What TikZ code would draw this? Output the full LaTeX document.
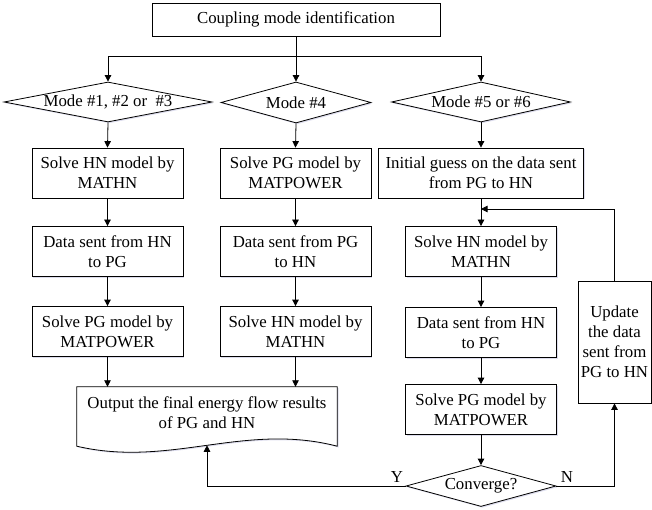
\documentclass[tikz,border=0pt]{standalone}
\usepackage{fontspec}
\setmainfont{Liberation Serif}
\usetikzlibrary{shapes.geometric,arrows.meta,shadows}
\begin{document}
\begin{tikzpicture}[x=1pt,y=-1pt,
  every node/.style={font=\fontsize{16.8}{20}\selectfont},
  softshadow/.style={drop shadow={shadow xshift=1.3pt,shadow yshift=-1.3pt,fill=blue!30!gray!45,opacity=0.45}},
  procbox/.style={draw, fill=white, line width=0.8pt, rectangle, align=center, inner sep=0pt,
                  minimum width=151pt, minimum height=50pt, softshadow},
  decbox/.style={draw, fill=white, line width=0.8pt, diamond, inner sep=0pt, aspect=1, softshadow},
  docbox/.style={draw, fill=white, line width=0.8pt, softshadow},
  conn/.style={line width=0.8pt},
  arr/.style={line width=0.8pt, -{Triangle[length=6.5pt,width=6.5pt]}}
]
\useasboundingbox (0,0) rectangle (652,510);

% top
\node[procbox, minimum width=288pt, minimum height=33pt] (top) at (296,19.5) {Coupling mode identification};

% decisions
\node[decbox, minimum width=208pt, minimum height=40pt, label={center:{Mode \#1, \#2 or\ \ \#3}}] (d1) at (108,102) {};
\node[decbox, minimum width=150pt, minimum height=41pt, label={center:{Mode \#4}}] (d2) at (296,102.5) {};
\node[decbox, minimum width=179pt, minimum height=40pt, label={center:{Mode \#5 or \#6}}] (d3) at (481,102) {};

% left column
\node[procbox] (l1) at (107.5,173) {Solve HN model by\\MATHN};
\node[procbox] (l2) at (107.5,251.5) {Data sent from HN\\to PG};
\node[procbox] (l3) at (107.5,331.5) {Solve PG model by\\MATPOWER};

% middle column
\node[procbox] (m1) at (295.5,173) {Solve PG model by\\MATPOWER};
\node[procbox] (m2) at (295.5,251.5) {Data sent from PG\\to HN};
\node[procbox] (m3) at (295.5,331.5) {Solve HN model by\\MATHN};

% right column
\node[procbox, minimum width=205pt] (r1) at (481,173) {Initial guess on the data sent\\from PG to HN};
\node[procbox] (r2) at (481,251.5) {Solve HN model by\\MATHN};
\node[procbox] (r3) at (481,332.5) {Data sent from HN\\to PG};
\node[procbox] (r4) at (481,409.5) {Solve PG model by\\MATPOWER};
\node[decbox, minimum width=150pt, minimum height=41pt, label={center:{Converge?}}] (cv) at (481,486) {};

% update box
\node[procbox, minimum width=73pt, minimum height=122pt] (up) at (614.5,342) {Update\\the data\\sent from\\PG to HN};

% output document
\node[minimum width=260pt, minimum height=59pt, inner sep=0pt] (out) at (207,416.5) {};
\draw[docbox] (out.north west) -- (out.north east) -- (out.south east)
   .. controls (244,422) and (170,468) .. (out.south west) -- cycle;
\node[align=center, inner sep=0pt] (outtxt) at ([yshift=4pt]out.center) {Output the final energy flow results\\of PG and HN};
\coordinate (wv) at (207,445.3);

% labels
\node (ylab) at (397,477) {Y};
\node (nlab) at (567,477) {N};

% connectors
\coordinate (hb) at (296,56);
\draw[arr] (top.south) -- (d2.north);
\draw[arr] (hb) -| (d1.north);
\draw[arr] (hb) -| (d3.north);

\draw[arr] (d1.south) -- (l1.north);
\draw[arr] (l1) -- (l2);
\draw[arr] (l2) -- (l3);
\draw[arr] (l3.south) -- (l3.south |- out.north);

\draw[arr] (d2.south) -- (m1.north);
\draw[arr] (m1) -- (m2);
\draw[arr] (m2) -- (m3);
\draw[arr] (m3.south) -- (m3.south |- out.north);

\draw[arr] (d3.south) -- (r1.north);
\draw[arr] (r1) -- (r2);
\draw[arr] (r2) -- (r3);
\draw[arr] (r3) -- (r4);
\draw[arr] (r4) -- (cv);

\draw[arr] (cv.west) -| (wv);
\draw[arr] (cv.east) -| (up.south);
\coordinate (fbj) at (481,209);
\draw[arr] (up.north) |- (fbj);
\end{tikzpicture}
\end{document}
